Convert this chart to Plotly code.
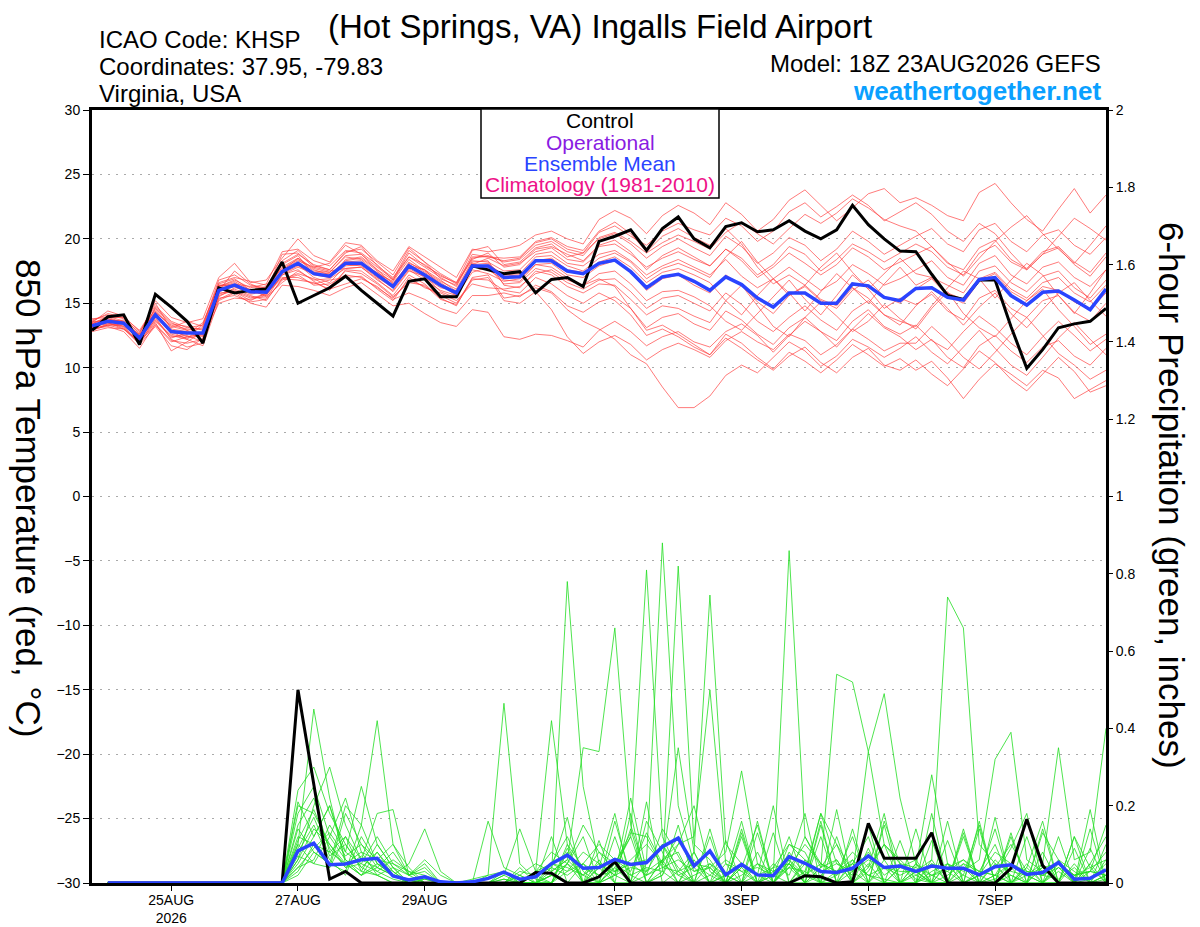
import plotly.graph_objects as go
import pandas as pd

# 6-hourly GEFS steps from 18Z 23AUG2026
times = pd.date_range("2026-08-23 18:00", periods=65, freq="6h")

# 850 hPa temperature (C): control and ensemble mean
temp_control = [12.9, 13.95, 14.1, 11.8, 15.7, 14.7, 13.6, 11.9, 16.2, 15.8, 16.0, 16.1, 18.2,
                15.0, 15.6, 16.2, 17.1, 16.0, 15.0, 14.0, 16.7, 16.9, 15.5, 15.5, 17.9, 17.6,
                17.3, 17.45, 15.8, 16.85, 17.0, 16.3, 19.8, 20.2, 20.7, 19.1, 20.8, 21.7, 20.0,
                19.3, 20.95, 21.25, 20.55, 20.7, 21.4, 20.6, 20.0, 20.7, 22.6, 21.1, 20.0, 19.05,
                19.0, 17.25, 15.6, 15.3, 16.8, 16.8, 13.2, 9.95, 11.4, 13.1, 13.4, 13.6, 14.6]
temp_mean = [13.25, 13.6, 13.45, 12.3, 14.1, 12.8, 12.7, 12.7, 16.0, 16.4, 15.9, 15.85, 17.45,
             18.1, 17.3, 17.1, 18.1, 18.1, 17.2, 16.3, 17.9, 17.2, 16.4, 15.8, 17.9, 17.9,
             17.0, 17.05, 18.3, 18.3, 17.5, 17.3, 18.1, 18.35, 17.45, 16.2, 17.05, 17.25, 16.7,
             16.0, 17.05, 16.45, 15.4, 14.7, 15.8, 15.8, 15.0, 15.0, 16.5, 16.35, 15.45, 15.2,
             16.15, 16.2, 15.45, 15.25, 16.85, 17.0, 15.6, 14.85, 15.85, 15.95, 15.25, 14.5, 16.1]

# ensemble members (temperature)
t01 = [13.6, 14.2, 13.9, 12.9, 14.8, 13.6, 13.1, 13.3, 16.8, 17.2, 16.4, 16.2, 18.1,
       18.8, 18.0, 17.6, 18.9, 19.4, 17.9, 17.0, 18.6, 18.0, 17.1, 16.6, 18.5, 18.7,
       18.2, 18.4, 19.5, 19.8, 19.0, 18.7, 20.1, 20.5, 19.8, 18.9, 19.7, 20.3, 19.8,
       19.2, 20.5, 21.3, 20.4, 19.6, 20.8, 21.9, 21.2, 22.0, 23.1, 22.4, 21.5, 21.0,
       20.6, 19.4, 18.2, 17.1, 18.5, 19.8, 20.9, 21.8, 20.4, 19.2, 18.1, 19.5, 21.0]
t02 = [13.0, 13.2, 12.8, 11.5, 13.4, 12.1, 11.9, 12.2, 15.4, 15.6, 15.1, 15.3, 16.8,
       17.2, 16.4, 16.5, 17.2, 17.0, 16.2, 15.4, 16.8, 16.3, 15.6, 15.0, 16.9, 16.8,
       16.0, 15.8, 17.0, 16.5, 15.6, 15.0, 15.8, 15.2, 14.1, 12.5, 13.0, 12.4, 11.6,
       11.0, 12.3, 11.5, 10.6, 9.8, 10.9, 11.6, 10.4, 9.6, 10.8, 11.5, 10.2, 9.8,
       10.6, 9.5, 8.6, 9.9, 11.3, 10.4, 9.1, 8.2, 9.5, 10.8, 9.7, 8.1, 8.6]
t03 = [13.8, 13.9, 13.9, 12.6, 15.2, 13.9, 13.5, 13.8, 17.0, 18.1, 16.6, 16.8, 18.5,
       20.0, 18.7, 18.2, 19.7, 19.5, 18.3, 17.5, 19.4, 18.6, 17.8, 17.0, 19.2, 19.0,
       19.2, 19.5, 20.3, 20.6, 20.0, 19.6, 21.5, 22.2, 21.6, 20.4, 21.8, 22.6, 22.0,
       21.1, 22.8, 21.9, 20.6, 21.5, 23.0, 23.8, 22.6, 21.4, 22.4, 23.5, 23.9, 22.8,
       23.2, 22.6, 21.8, 21.4, 23.6, 24.3, 22.8, 21.5, 20.6, 22.3, 23.9, 22.0, 23.4]
t04 = [12.9, 13.4, 13.2, 11.9, 13.8, 12.4, 12.5, 12.0, 15.6, 16.0, 15.5, 15.4, 17.2,
       17.6, 16.7, 16.0, 17.6, 17.5, 16.6, 15.6, 17.2, 16.5, 15.4, 14.8, 17.0, 17.2,
       15.4, 15.6, 16.2, 15.8, 14.5, 13.6, 13.0, 12.2, 11.0, 10.3, 8.5, 6.9, 6.9,
       7.8, 9.4, 10.2, 9.6, 10.8, 12.0, 11.3, 10.1, 10.9, 12.2, 11.6, 10.8, 11.5,
       12.4, 11.2, 10.3, 11.6, 12.9, 11.5, 10.2, 9.4, 10.8, 12.3, 13.5, 12.2, 11.0]
t05 = [13.5, 14.4, 14.0, 12.8, 14.5, 13.2, 12.9, 13.1, 16.3, 16.8, 16.2, 16.5, 19.0,
       19.2, 18.3, 17.9, 19.1, 18.9, 18.0, 16.8, 18.9, 17.9, 17.2, 16.5, 18.4, 18.9,
       17.8, 18.0, 19.2, 19.4, 18.8, 18.3, 19.5, 19.9, 19.0, 17.6, 18.7, 19.3, 18.6,
       17.9, 19.2, 18.5, 17.2, 18.0, 19.4, 18.8, 17.5, 18.4, 19.6, 19.0, 18.2, 18.9,
       19.6, 19.0, 17.8, 17.2, 18.9, 19.5, 18.2, 17.6, 18.8, 19.3, 18.0, 17.1, 18.6]
t06 = [13.1, 13.5, 13.0, 11.8, 13.2, 11.7, 11.4, 12.3, 15.0, 15.4, 15.3, 15.6, 17.6,
       18.3, 17.8, 17.5, 17.7, 17.8, 16.9, 15.9, 17.5, 17.1, 15.9, 15.4, 18.1, 17.6,
       16.8, 16.7, 18.0, 18.1, 17.2, 17.0, 17.9, 18.3, 17.4, 16.0, 16.9, 17.2, 16.4,
       15.8, 17.2, 16.4, 15.1, 14.2, 15.6, 16.3, 15.2, 14.6, 16.0, 16.8, 15.5, 15.0,
       16.1, 16.9, 15.6, 15.0, 16.7, 17.3, 15.9, 15.2, 16.3, 16.0, 15.1, 14.5, 15.8]
t07 = [13.4, 13.7, 13.6, 12.4, 14.6, 13.4, 13.2, 12.9, 16.5, 16.9, 16.0, 15.8, 18.0,
       18.7, 17.2, 17.0, 18.4, 18.6, 17.6, 16.5, 18.1, 17.6, 16.8, 15.9, 18.2, 18.3,
       16.4, 16.2, 17.5, 17.2, 16.3, 15.8, 16.5, 16.4, 15.3, 14.1, 14.8, 14.6, 14.0,
       13.5, 15.2, 16.4, 14.8, 13.2, 12.4, 13.9, 15.1, 14.0, 12.8, 13.6, 14.9, 13.8,
       13.0, 14.6, 15.9, 14.2, 13.1, 12.4, 13.8, 15.2, 16.1, 14.5, 13.2, 11.8, 12.6]
t08 = [12.8, 13.1, 13.0, 12.0, 13.6, 12.5, 12.2, 11.7, 15.2, 15.8, 15.0, 14.7, 16.4,
       16.3, 16.0, 15.6, 16.2, 16.6, 15.7, 14.8, 15.0, 14.2, 13.5, 13.2, 14.5, 14.3,
       12.4, 12.2, 12.6, 12.5, 12.1, 11.6, 12.9, 13.6, 12.8, 11.7, 12.4, 12.8, 12.0,
       11.6, 12.8, 13.4, 12.5, 11.2, 12.5, 13.6, 12.8, 11.6, 13.0, 14.2, 13.1, 12.4,
       11.4, 12.2, 10.8, 10.0, 11.7, 12.5, 11.3, 10.4, 11.6, 12.1, 10.9, 10.2, 11.5]
t09 = [13.2, 13.8, 13.4, 12.2, 14.2, 12.9, 12.4, 12.6, 16.1, 16.5, 16.3, 16.1, 17.3,
       17.9, 17.4, 17.3, 18.2, 18.3, 17.0, 16.4, 18.0, 17.3, 16.5, 15.7, 17.8, 18.0,
       17.2, 17.3, 18.6, 18.7, 17.9, 17.5, 18.5, 18.9, 18.2, 16.9, 17.7, 18.1, 17.6,
       17.0, 18.6, 19.8, 18.2, 16.9, 15.6, 16.4, 17.8, 18.9, 17.4, 16.1, 17.3, 18.5,
       17.3, 17.0, 16.4, 15.8, 17.5, 17.9, 16.6, 15.9, 17.1, 17.5, 16.2, 15.4, 16.8]
t10 = [13.7, 14.1, 13.8, 12.7, 15.0, 13.0, 12.8, 12.4, 16.2, 16.6, 15.8, 16.0, 18.8,
       18.9, 17.8, 18.1, 19.5, 18.8, 17.8, 16.9, 19.1, 18.2, 16.9, 16.4, 18.8, 18.6,
       18.5, 18.6, 19.8, 20.1, 19.4, 19.1, 20.6, 21.3, 20.4, 19.0, 20.2, 20.8, 20.1,
       19.5, 20.8, 19.6, 17.8, 16.5, 17.2, 16.4, 15.3, 14.8, 16.2, 15.4, 14.1, 13.6,
       13.2, 14.8, 16.2, 17.5, 16.9, 15.4, 16.8, 18.1, 17.2, 15.6, 14.2, 15.8, 17.6]
t11 = [13.0, 13.3, 13.3, 12.1, 13.9, 12.2, 11.6, 11.9, 15.7, 16.1, 15.6, 15.2, 16.9,
       17.3, 16.9, 16.3, 17.5, 17.3, 16.5, 15.5, 16.6, 16.4, 15.3, 14.9, 16.8, 17.0,
       15.2, 15.0, 15.9, 14.5, 12.4, 11.1, 12.0, 12.5, 11.8, 10.6, 11.4, 11.9, 11.4,
       10.8, 12.1, 12.8, 12.0, 11.4, 12.6, 12.1, 11.0, 11.8, 13.0, 12.2, 11.3, 11.9,
       11.9, 13.2, 12.1, 10.8, 9.9, 11.2, 12.6, 13.9, 12.5, 11.1, 10.2, 9.1, 9.8]
t12 = [13.6, 13.6, 13.7, 12.5, 14.4, 13.1, 13.6, 13.2, 16.6, 17.0, 16.7, 16.4, 17.7,
       18.4, 17.5, 17.4, 18.6, 18.4, 17.3, 16.7, 18.4, 17.5, 16.7, 16.1, 18.3, 18.2,
       17.5, 17.6, 18.8, 19.0, 18.1, 17.9, 18.8, 19.1, 18.3, 17.2, 17.9, 18.4, 17.8,
       17.2, 18.4, 17.1, 16.2, 16.9, 17.8, 16.9, 16.0, 16.7, 18.0, 17.3, 16.4, 16.9,
       17.6, 18.3, 17.0, 16.4, 18.1, 18.7, 17.2, 16.5, 17.8, 18.2, 17.0, 16.3, 17.6]
t13 = [13.3, 13.5, 13.1, 11.9, 13.5, 11.3, 12.0, 12.8, 15.9, 16.3, 15.7, 15.9, 17.0,
       17.0, 16.5, 16.8, 17.0, 17.1, 16.1, 15.2, 17.0, 16.2, 15.8, 15.2, 16.5, 16.2,
       16.1, 16.3, 17.3, 17.6, 16.8, 16.4, 16.9, 16.3, 14.6, 12.9, 13.3, 12.6, 11.8,
       11.0, 12.6, 11.9, 10.8, 9.9, 11.2, 10.5, 9.6, 10.6, 11.8, 11.0, 10.1, 10.7,
       9.8, 10.5, 9.2, 7.6, 9.1, 10.3, 9.5, 8.6, 9.8, 9.2, 7.6, 8.3, 9.0]
t14 = [13.4, 14.0, 13.6, 12.3, 14.0, 12.7, 12.6, 13.5, 16.4, 16.4, 16.0, 16.3, 18.3,
       19.1, 17.9, 17.6, 19.0, 19.2, 18.2, 17.2, 19.3, 18.2, 17.3, 16.6, 19.1, 19.4,
       18.0, 18.2, 19.3, 19.6, 18.6, 18.9, 20.5, 21.0, 20.2, 19.5, 20.6, 21.2, 20.7,
       20.3, 21.6, 21.0, 19.8, 20.6, 22.1, 22.8, 21.7, 22.5, 23.4, 22.6, 21.4, 22.1,
       22.8, 21.9, 20.6, 19.8, 21.2, 20.4, 18.9, 17.6, 18.8, 20.2, 21.6, 20.8, 19.9]
t15 = [12.9, 13.3, 13.4, 12.6, 14.3, 13.3, 13.0, 13.0, 15.5, 16.2, 16.1, 15.5, 16.6,
       17.5, 16.8, 16.9, 17.7, 17.8, 16.8, 16.0, 17.6, 16.8, 16.0, 15.6, 17.6, 17.3,
       16.7, 16.9, 18.0, 17.8, 17.0, 16.4, 17.3, 17.5, 16.5, 15.2, 15.9, 16.0, 15.5,
       14.8, 13.6, 12.9, 14.2, 15.5, 16.8, 15.3, 14.1, 15.6, 17.2, 16.1, 14.6, 15.4,
       14.9, 15.7, 14.4, 13.7, 15.4, 16.0, 14.6, 13.9, 15.2, 15.6, 14.3, 13.6, 15.0]
t16 = [13.5, 13.8, 13.5, 12.1, 14.1, 12.6, 12.3, 12.5, 16.0, 17.5, 16.5, 16.0, 17.8,
       18.5, 17.6, 17.2, 18.3, 18.5, 17.5, 16.3, 18.2, 17.4, 16.6, 15.8, 18.0, 18.5,
       17.9, 18.1, 19.0, 19.3, 18.4, 18.2, 19.4, 19.6, 18.8, 17.8, 18.5, 19.0, 18.4,
       17.9, 19.2, 18.3, 17.0, 17.8, 18.9, 18.1, 17.2, 18.0, 19.3, 18.6, 17.6, 18.2,
       18.8, 19.4, 18.1, 17.6, 19.3, 19.9, 18.4, 17.7, 19.0, 19.4, 18.2, 17.4, 18.9]
t17 = [13.1, 13.6, 13.2, 12.4, 14.7, 13.5, 12.9, 12.1, 15.8, 15.9, 15.4, 15.7, 17.4,
       18.0, 17.0, 16.6, 17.9, 18.0, 17.4, 16.6, 17.9, 17.6, 16.4, 15.6, 17.4, 17.8,
       16.5, 16.6, 17.7, 17.4, 16.6, 16.1, 16.8, 16.9, 15.9, 14.6, 15.4, 15.6, 15.0,
       14.4, 15.8, 14.9, 13.6, 12.8, 13.9, 14.8, 13.7, 12.9, 14.4, 15.2, 14.1, 13.3,
       14.8, 15.9, 14.6, 13.3, 14.7, 15.8, 14.2, 13.1, 14.5, 15.8, 16.6, 15.2, 14.0]
t18 = [13.2, 13.4, 13.6, 12.2, 13.7, 12.3, 12.7, 12.7, 16.3, 16.7, 16.0, 15.6, 17.2,
       17.8, 17.3, 17.0, 18.0, 17.9, 17.0, 16.2, 17.7, 17.0, 16.2, 16.0, 18.0, 18.1,
       17.1, 17.2, 18.3, 18.5, 17.6, 17.4, 18.2, 18.6, 17.8, 16.6, 17.4, 17.7, 17.2,
       16.6, 15.2, 14.1, 15.6, 16.9, 15.8, 14.4, 15.9, 17.3, 16.2, 15.0, 16.5, 17.8,
       16.4, 17.0, 15.8, 15.3, 16.9, 17.4, 16.1, 15.4, 16.6, 17.0, 15.8, 15.1, 16.4]
t19 = [13.4, 13.9, 13.5, 12.5, 14.3, 12.8, 12.2, 13.4, 16.4, 16.4, 15.9, 15.9, 17.5,
       18.5, 17.7, 17.4, 18.7, 18.8, 17.6, 16.8, 18.6, 17.8, 17.0, 16.3, 18.6, 18.6,
       18.3, 18.5, 19.7, 20.0, 19.2, 18.9, 20.0, 20.4, 19.6, 18.5, 19.4, 20.0, 19.3,
       18.7, 20.2, 19.4, 18.1, 18.9, 20.1, 19.5, 18.3, 19.2, 20.6, 19.8, 18.8, 19.5,
       20.2, 20.8, 19.6, 19.0, 20.7, 21.2, 19.8, 19.0, 20.3, 20.7, 19.5, 18.8, 20.1]
t20 = [13.0, 13.3, 13.0, 12.0, 13.3, 12.0, 12.4, 12.6, 15.3, 15.9, 15.2, 15.8, 16.9,
       16.8, 16.6, 16.1, 16.5, 16.9, 16.3, 15.3, 15.8, 15.3, 14.6, 14.2, 15.6, 15.6,
       15.8, 15.5, 16.4, 15.9, 14.8, 14.3, 15.1, 15.5, 14.6, 13.1, 13.9, 14.2, 13.4,
       12.9, 14.4, 13.7, 12.6, 11.8, 13.1, 13.9, 12.8, 12.1, 13.6, 14.5, 13.2, 12.6,
       13.3, 12.1, 11.4, 12.8, 14.0, 13.1, 11.9, 11.0, 12.4, 13.6, 12.5, 11.3, 12.2]

# 6-hour precipitation (inches), valid from the second step on
precip_control = [0, 0, 0, 0, 0, 0, 0, 0, 0, 0, 0, 0,
                  0.50, 0.25, 0.01, 0.03, 0, 0, 0, 0, 0, 0, 0, 0, 0,
                  0, 0, 0.027, 0.025, 0, 0, 0.016, 0.055, 0, 0, 0, 0, 0,
                  0, 0, 0, 0, 0, 0, 0.019, 0.016, 0, 0.003, 0.154, 0.064, 0.064,
                  0.064, 0.13, 0, 0, 0, 0, 0.038, 0.165, 0.045, 0, 0, 0, 0]
precip_mean = [0, 0, 0, 0, 0, 0, 0, 0, 0, 0, 0, 0,
               0.083, 0.103, 0.047, 0.049, 0.06, 0.064, 0.018, 0.008, 0.016, 0.003, 0, 0.003, 0.012,
               0.028, 0.01, 0.016, 0.05, 0.072, 0.038, 0.04, 0.061, 0.048, 0.053, 0.094, 0.116, 0.044,
               0.083, 0.021, 0.048, 0.021, 0.019, 0.068, 0.051, 0.03, 0.027, 0.038, 0.07, 0.04, 0.044,
               0.03, 0.044, 0.038, 0.038, 0.021, 0.042, 0.047, 0.022, 0.027, 0.053, 0.01, 0.012, 0.034]

p01 = [0, 0, 0, 0, 0, 0, 0, 0, 0, 0, 0, 0,
       0.24, 0.30, 0.18, 0.10, 0.04, 0.02, 0, 0, 0, 0, 0, 0, 0,
       0, 0, 0, 0.05, 0.12, 0.03, 0, 0.02, 0, 0.05, 0.10, 0.04, 0,
       0.02, 0, 0.04, 0, 0, 0.08, 0.02, 0, 0.03, 0.06, 0.02, 0, 0,
       0, 0.02, 0, 0.04, 0, 0.06, 0.02, 0, 0, 0.03, 0, 0.01, 0.05]
p02 = [0, 0, 0, 0, 0, 0, 0, 0, 0, 0, 0, 0,
       0.10, 0.45, 0.22, 0.05, 0.08, 0.02, 0, 0, 0.01, 0, 0, 0, 0,
       0, 0.02, 0, 0.02, 0.78, 0.25, 0.05, 0.02, 0.22, 0.03, 0.10, 0.02, 0,
       0, 0, 0.05, 0.02, 0, 0.04, 0.10, 0.05, 0.02, 0.05, 0.02, 0.01, 0,
       0.03, 0, 0.05, 0.02, 0, 0.01, 0.05, 0.02, 0, 0.04, 0, 0, 0.02]
p03 = [0, 0, 0, 0, 0, 0, 0, 0, 0, 0, 0, 0,
       0.05, 0.12, 0.20, 0.08, 0.25, 0.10, 0.04, 0, 0, 0, 0, 0, 0,
       0.01, 0, 0, 0.03, 0.06, 0.35, 0.34, 0.66, 0.15, 0.02, 0.05, 0.12, 0.03,
       0.05, 0.02, 0, 0, 0.03, 0.05, 0.02, 0.18, 0.10, 0.03, 0.08, 0.02, 0.05,
       0.01, 0, 0.02, 0.05, 0.03, 0.02, 0, 0.03, 0.02, 0.01, 0.04, 0, 0.01]
p04 = [0, 0, 0, 0, 0, 0, 0, 0, 0, 0, 0, 0,
       0.02, 0.08, 0.05, 0.20, 0.15, 0.42, 0.10, 0.02, 0.05, 0, 0, 0, 0,
       0, 0, 0, 0.02, 0.05, 0.02, 0, 0.04, 0.12, 0.81, 0.12, 0.03, 0.05,
       0.02, 0.06, 0.03, 0, 0.05, 0.02, 0.12, 0.04, 0.54, 0.52, 0.34, 0.10, 0.06,
       0.02, 0.05, 0.03, 0, 0.02, 0.08, 0.05, 0.02, 0, 0.06, 0.03, 0, 0.02]
p05 = [0, 0, 0, 0, 0, 0, 0, 0, 0, 0, 0, 0,
       0.15, 0.22, 0.08, 0.12, 0.06, 0.18, 0.19, 0.02, 0.04, 0, 0, 0.01, 0.02,
       0.465, 0.05, 0.01, 0, 0.03, 0.05, 0.02, 0.03, 0.05, 0.06, 0.88, 0.20, 0.05,
       0.04, 0, 0.02, 0.05, 0.03, 0.06, 0.02, 0.05, 0.03, 0.08, 0.04, 0.10, 0.05,
       0.04, 0.02, 0.03, 0.06, 0.02, 0.04, 0.10, 0.03, 0.02, 0.05, 0.02, 0.03, 0.08]
p06 = [0, 0, 0, 0, 0, 0, 0, 0, 0, 0, 0, 0,
       0.08, 0.15, 0.06, 0.02, 0.12, 0.05, 0.02, 0.05, 0.14, 0.03, 0, 0, 0,
       0.02, 0.14, 0.03, 0.42, 0.10, 0.04, 0.02, 0.05, 0.02, 0.04, 0.03, 0.82, 0.10,
       0.06, 0, 0.05, 0, 0.02, 0.12, 0, 0.02, 0.06, 0, 0.03, 0.10, 0,
       0.05, 0, 0, 0.14, 0, 0.05, 0, 0.04, 0.16, 0, 0, 0.05, 0]
p07 = [0, 0, 0, 0, 0, 0, 0, 0, 0, 0, 0, 0,
       0.20, 0.18, 0.10, 0.05, 0.02, 0.08, 0.03, 0, 0, 0, 0, 0, 0.16,
       0.04, 0.02, 0.05, 0.03, 0.06, 0.02, 0.05, 0.03, 0.06, 0.10, 0.05, 0.35, 0.08,
       0.745, 0.10, 0.05, 0.02, 0.04, 0.10, 0.06, 0.03, 0.05, 0.02, 0.34, 0.49, 0.22,
       0.05, 0.02, 0.04, 0.06, 0.03, 0.02, 0.05, 0.03, 0.02, 0.04, 0.02, 0.03, 0.02]
p08 = [0, 0, 0, 0, 0, 0, 0, 0, 0, 0, 0, 0,
       0.12, 0.10, 0.04, 0.18, 0.10, 0.06, 0.05, 0.03, 0, 0, 0, 0, 0,
       0, 0.03, 0.02, 0.05, 0.03, 0.08, 0.05, 0.02, 0.04, 0.03, 0.06, 0.10, 0.12,
       0.50, 0.05, 0.03, 0.04, 0.02, 0.86, 0.12, 0.05, 0.03, 0.05, 0.02, 0.04, 0.03,
       0.03, 0.06, 0.74, 0.66, 0.10, 0.05, 0.03, 0.02, 0.04, 0.05, 0.02, 0.03, 0.02]
p09 = [0, 0, 0, 0, 0, 0, 0, 0, 0, 0, 0, 0,
       0.04, 0.06, 0.15, 0.08, 0.05, 0.12, 0.05, 0.02, 0.03, 0, 0, 0, 0,
       0, 0, 0.03, 0.08, 0.05, 0.15, 0.08, 0.03, 0.05, 0.02, 0.04, 0.06, 0.03,
       0.04, 0.08, 0.29, 0.05, 0.02, 0.04, 0.03, 0.18, 0.05, 0.03, 0.06, 0.04, 0.02,
       0.04, 0.28, 0.05, 0.03, 0.06, 0.32, 0.39, 0.06, 0.03, 0.05, 0.02, 0.04, 0.06]
p10 = [0, 0, 0, 0, 0, 0, 0, 0, 0, 0, 0, 0,
       0.18, 0.25, 0.12, 0.06, 0.03, 0.10, 0.04, 0, 0, 0, 0, 0, 0,
       0, 0, 0.02, 0.04, 0.02, 0.05, 0.10, 0.06, 0.03, 0.13, 0.05, 0.02, 0.04,
       0, 0.05, 0, 0.16, 0, 0.05, 0, 0.04, 0.06, 0, 0.15, 0, 0.04,
       0.06, 0, 0.05, 0, 0.14, 0, 0, 0.02, 0.05, 0.35, 0.06, 0.08, 0.40]
p11 = [0, 0, 0, 0, 0, 0, 0, 0, 0, 0, 0, 0,
       0.06, 0.20, 0.30, 0.15, 0.06, 0.04, 0.02, 0, 0, 0, 0, 0, 0,
       0, 0, 0, 0, 0.10, 0, 0.04, 0.18, 0, 0, 0.02, 0.15, 0,
       0.05, 0, 0.12, 0, 0, 0.06, 0, 0.15, 0, 0, 0.09, 0, 0,
       0, 0.11, 0, 0, 0.02, 0.14, 0, 0, 0.08, 0, 0.12, 0, 0]
p12 = [0, 0, 0, 0, 0, 0, 0, 0, 0, 0, 0, 0,
       0.10, 0.05, 0.12, 0.22, 0.08, 0.06, 0.10, 0.04, 0, 0, 0, 0, 0,
       0.03, 0, 0, 0.12, 0, 0, 0.06, 0, 0.18, 0, 0.06, 0.08, 0,
       0, 0, 0.04, 0.15, 0, 0.10, 0.08, 0, 0, 0.14, 0, 0.06, 0,
       0.03, 0, 0.16, 0, 0, 0.02, 0.09, 0.18, 0, 0, 0.05, 0, 0.10]
p13 = [0, 0, 0, 0, 0, 0, 0, 0, 0, 0, 0, 0,
       0.03, 0.10, 0.08, 0.05, 0.02, 0.04, 0.08, 0.02, 0.06, 0.02, 0, 0, 0,
       0, 0.04, 0, 0, 0.08, 0, 0, 0.12, 0, 0.16, 0.08, 0, 0.06,
       0, 0.11, 0, 0, 0.13, 0, 0, 0.04, 0.10, 0, 0, 0.16, 0.05,
       0, 0.06, 0, 0.12, 0, 0, 0.02, 0, 0.13, 0.06, 0, 0.09, 0]
p14 = [0, 0, 0, 0, 0, 0, 0, 0, 0, 0, 0, 0,
       0.14, 0.08, 0.05, 0.03, 0.15, 0.05, 0.03, 0, 0, 0, 0, 0, 0,
       0, 0.02, 0, 0, 0.05, 0.12, 0, 0.04, 0, 0, 0.02, 0.10, 0.20,
       0.03, 0, 0, 0.02, 0.20, 0, 0.06, 0, 0, 0.05, 0.12, 0, 0,
       0.05, 0, 0, 0.02, 0.15, 0, 0, 0.04, 0, 0.12, 0, 0, 0.06]
p15 = [0, 0, 0, 0, 0, 0, 0, 0, 0, 0, 0, 0,
       0.06, 0.14, 0.10, 0.04, 0.05, 0.03, 0.06, 0.03, 0.02, 0, 0, 0, 0,
       0.02, 0, 0.03, 0.05, 0.04, 0.02, 0.08, 0.05, 0.13, 0.12, 0.04, 0.03, 0.08,
       0, 0.02, 0.16, 0, 0, 0.05, 0.18, 0, 0, 0.06, 0, 0, 0.11,
       0, 0.05, 0, 0, 0.16, 0, 0.04, 0, 0.05, 0, 0, 0.19, 0]
p16 = [0, 0, 0, 0, 0, 0, 0, 0, 0, 0, 0, 0,
       0.09, 0.17, 0.07, 0.10, 0.04, 0.08, 0.02, 0, 0.01, 0, 0, 0, 0,
       0, 0, 0.02, 0, 0.09, 0, 0, 0.05, 0.12, 0, 0, 0.03, 0,
       0.14, 0, 0, 0.05, 0, 0, 0.05, 0, 0.12, 0, 0, 0.15, 0,
       0, 0.18, 0, 0, 0.03, 0.10, 0, 0, 0.14, 0, 0, 0.05, 0.12]
p17 = [0, 0, 0, 0, 0, 0, 0, 0, 0, 0, 0, 0,
       0.21, 0.12, 0.20, 0.06, 0.02, 0.05, 0.02, 0, 0, 0, 0, 0, 0,
       0, 0, 0, 0.02, 0, 0, 0.11, 0, 0, 0.21, 0, 0, 0.08,
       0, 0, 0.14, 0, 0.04, 0.05, 0, 0, 0.19, 0, 0.05, 0, 0,
       0.14, 0, 0, 0.05, 0, 0, 0.12, 0, 0, 0.05, 0, 0.14, 0]
p18 = [0, 0, 0, 0, 0, 0, 0, 0, 0, 0, 0, 0,
       0.07, 0.05, 0.04, 0.12, 0.03, 0.02, 0.04, 0.02, 0, 0, 0, 0, 0,
       0, 0, 0, 0, 0.05, 0, 0, 0.16, 0.02, 0, 0.06, 0, 0,
       0.12, 0, 0, 0.08, 0, 0.04, 0, 0.16, 0, 0, 0.04, 0.18, 0,
       0, 0.03, 0.05, 0, 0, 0.17, 0, 0.05, 0, 0, 0.12, 0.04, 0]
p19 = [0, 0, 0, 0, 0, 0, 0, 0, 0, 0, 0, 0,
       0.11, 0.19, 0.09, 0.04, 0.07, 0.03, 0.01, 0, 0, 0, 0, 0, 0.02,
       0.03, 0, 0, 0.04, 0.17, 0, 0.04, 0, 0, 0.02, 0.14, 0.07, 0,
       0, 0.02, 0, 0.13, 0, 0, 0.03, 0, 0.02, 0.12, 0, 0, 0.04,
       0.03, 0, 0.11, 0, 0.02, 0, 0.13, 0, 0.04, 0, 0, 0.03, 0.15]
p20 = [0, 0, 0, 0, 0, 0, 0, 0, 0, 0, 0, 0,
       0.04, 0.09, 0.13, 0.07, 0.10, 0.04, 0.02, 0.01, 0, 0, 0, 0, 0,
       0.01, 0, 0, 0.02, 0, 0.05, 0, 0.02, 0.14, 0, 0.03, 0, 0.02,
       0.04, 0, 0.13, 0, 0.02, 0, 0, 0.12, 0, 0.03, 0, 0.04, 0,
       0.02, 0, 0, 0.13, 0, 0.02, 0, 0.12, 0, 0, 0.09, 0, 0.02]

temp_members = [t01, t02, t03, t04, t05, t06, t07, t08, t09, t10,
                t11, t12, t13, t14, t15, t16, t17, t18, t19, t20]
precip_members = [p01, p02, p03, p04, p05, p06, p07, p08, p09, p10,
                  p11, p12, p13, p14, p15, p16, p17, p18, p19, p20]

tick_dates = ["2026-08-25", "2026-08-27", "2026-08-29", "2026-09-01",
              "2026-09-03", "2026-09-05", "2026-09-07"]
tick_labels = ["25AUG<br>2026", "27AUG", "29AUG", "1SEP", "3SEP", "5SEP", "7SEP"]

FONT = "Liberation Sans, Arial, Helvetica, sans-serif"
ptimes = times[1:]

fig = go.Figure()

for m in temp_members:
    fig.add_trace(go.Scatter(x=times, y=m, mode='lines', yaxis='y',
                             line=dict(color='rgba(255,60,60,0.85)', width=0.8),
                             showlegend=False, hoverinfo='skip'))
for m in precip_members:
    fig.add_trace(go.Scatter(x=ptimes, y=m, mode='lines', yaxis='y2',
                             line=dict(color='#22dd22', width=0.8),
                             showlegend=False, hoverinfo='skip'))

fig.add_trace(go.Scatter(x=ptimes, y=precip_control, mode='lines', yaxis='y2',
                         line=dict(color='black', width=3), showlegend=False))
fig.add_trace(go.Scatter(x=ptimes, y=precip_mean, mode='lines', yaxis='y2',
                         line=dict(color='#2a44ff', width=3.5), showlegend=False))
fig.add_trace(go.Scatter(x=times, y=temp_control, mode='lines', yaxis='y',
                         line=dict(color='black', width=3), showlegend=False))
fig.add_trace(go.Scatter(x=times, y=temp_mean, mode='lines', yaxis='y',
                         line=dict(color='#2a44ff', width=3.5), showlegend=False))

# page pixel -> paper coords (plot area on the page: 92..1106 x 110..883)
def px(x):
    return (x - 92) / 1014.0

def py(y):
    return (883 - y) / 773.0

ann = []
ann.append(dict(text="(Hot Springs, VA) Ingalls Field Airport", x=px(600), y=py(26),
                font=dict(size=33, color='black')))
for txt, yy in [("ICAO Code: KHSP", 39), ("Coordinates: 37.95, -79.83", 67), ("Virginia, USA", 94)]:
    ann.append(dict(text=txt, x=px(97), y=py(yy), xanchor='left', font=dict(size=24, color='black')))
ann.append(dict(text="Model: 18Z 23AUG2026 GEFS", x=px(1103), y=py(63), xanchor='right',
                font=dict(size=24, color='black')))
ann.append(dict(text="<b>weathertogether.net</b>", x=px(1103), y=py(91), xanchor='right',
                font=dict(size=26, color='#0aa0ff')))
for txt, col, yy in [("Control", 'black', 121), ("Operational", '#8a1be2', 142),
                     ("Ensemble Mean", '#2a44ff', 163), ("Climatology (1981-2010)", '#ee1188', 185)]:
    ann.append(dict(text=txt, x=px(600), y=py(yy), font=dict(size=21, color=col)))
ann.append(dict(text="850 hPa Temperature (red, °C)", x=px(29), y=py(498), textangle=90,
                font=dict(size=35, color='black')))
ann.append(dict(text="6-hour Precipitation (green, inches)", x=px(1172), y=py(495), textangle=90,
                font=dict(size=35, color='black')))
for a in ann:
    a.update(xref='paper', yref='paper', showarrow=False, yanchor='middle')
    a.setdefault('xanchor', 'center')

# the page body adds an 8px offset, so the figure is 8px smaller and shifted margins
fig.update_layout(
    width=1192, height=919,
    margin=dict(l=84, r=94, t=102, b=44, autoexpand=False),
    paper_bgcolor='white', plot_bgcolor='white',
    font=dict(family=FONT, color='black'),
    showlegend=False,
    annotations=ann,
    shapes=[dict(type='rect', xref='paper', yref='paper', x0=px(481), x1=px(719),
                 y0=py(198), y1=py(109), line=dict(color='black', width=1.5),
                 fillcolor='white', layer='above')],
    xaxis=dict(type='date', range=[times[0], times[-1]], automargin=False,
               tickvals=pd.to_datetime(tick_dates), ticktext=tick_labels,
               ticks='outside', ticklen=5, tickcolor='black', tickfont=dict(size=14),
               ticklabelstandoff=-3,
               showgrid=False, zeroline=False,
               showline=True, linewidth=3, linecolor='black', mirror=True),
    yaxis=dict(range=[-30, 30], dtick=5, ticks='outside', ticklen=6, tickcolor='black',
               tickfont=dict(size=14), automargin=False,
               showgrid=True, gridcolor='#aaaaaa', griddash='2px,6px', gridwidth=1,
               zeroline=False, showline=True, linewidth=3, linecolor='black', mirror=True),
    yaxis2=dict(range=[0, 2], dtick=0.2, overlaying='y', side='right', automargin=False,
                ticks='outside', ticklen=6, tickcolor='black', tickfont=dict(size=14),
                showgrid=False, zeroline=False, showline=False),
)

fig.write_html("out.html")
